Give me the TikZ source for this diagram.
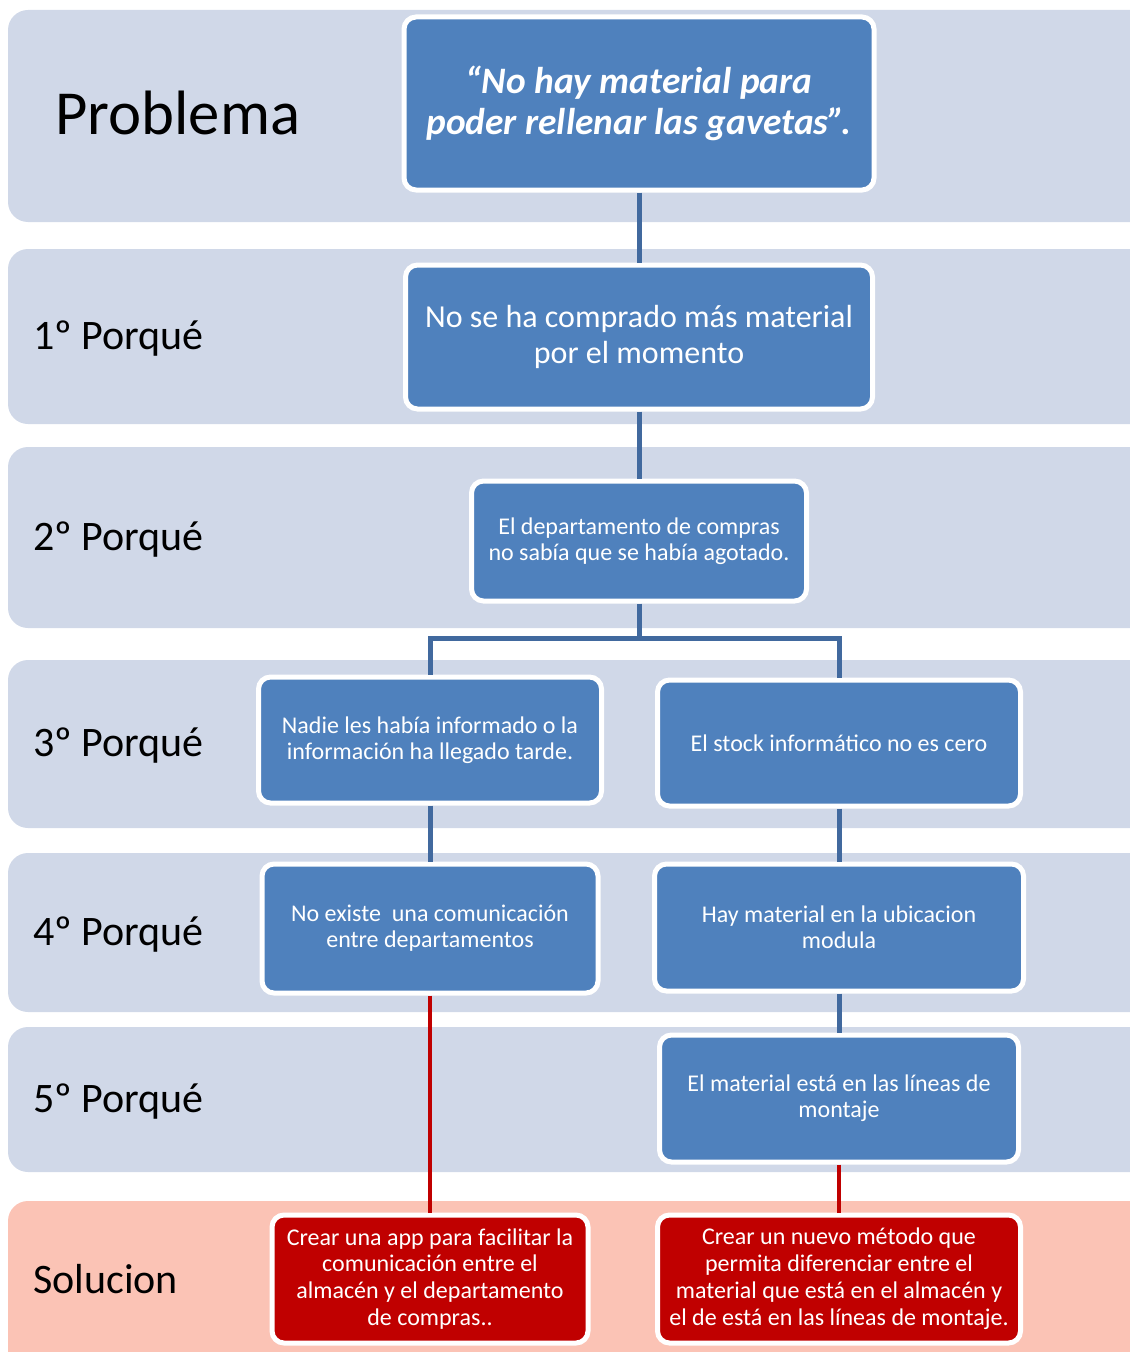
\documentclass[tikz,border=0pt]{standalone}
\usepackage{fontspec}
\setmainfont{Carlito}
\definecolor{bandc}{HTML}{D0D8E8}
\definecolor{pinkc}{HTML}{FBC3B5}
\definecolor{boxblue}{HTML}{4F81BD}
\definecolor{boxred}{HTML}{C00000}
\definecolor{linkblue}{HTML}{41699E}
\definecolor{linkred}{HTML}{C00000}
\begin{document}
\begin{tikzpicture}[x=0.75pt,y=-0.75pt,
  band/.style={fill=bandc, draw=none, rounded corners=15pt},
  sz/.style 2 args={minimum width=#1*0.75pt, minimum height=#2*0.75pt},
  box/.style={rectangle, rounded corners=9pt, fill=boxblue, draw=white, line width=3.75pt,
              text=white, align=center, inner sep=2pt,
              font=\fontsize{18}{19.5}\selectfont},
  redbox/.style={box, fill=boxred, font=\fontsize{18}{20.2}\selectfont},
  link/.style={draw=linkblue, line width=3.75pt},
  redlink/.style={draw=linkred, line width=3pt},
  lab/.style={anchor=base west, inner sep=0pt, font=\fontsize{31.5}{36}\selectfont}]
\useasboundingbox (0,0) rectangle (1130,1352);
\begin{scope}
\clip (0,0) rectangle (1130,1352);
\fill[band] (8,10) rectangle (1170,222);
\fill[band] (8,249) rectangle (1170,424);
\fill[band] (8,447) rectangle (1170,628);
\fill[band] (8,660) rectangle (1170,828);
\fill[band] (8,853) rectangle (1170,1012);
\fill[band] (8,1027) rectangle (1170,1172);
\fill[band, fill=pinkc] (8,1201) rectangle (1170,1390);
\end{scope}

% left labels
\node[lab, font=\fontsize{47}{54}\selectfont] (lp) at (55,135) {Problema};
\node[lab] (l1) at (33,349) {1º Porqué};
\node[lab] (l2) at (33,550) {2º Porqué};
\node[lab] (l3) at (33,756) {3º Porqué};
\node[lab] (l4) at (33,945) {4º Porqué};
\node[lab] (l5) at (33,1112) {5º Porqué};
\node[lab] (ls) at (33,1293) {Solucion};

% boxes
\node[box, sz={470}{173}, font=\fontsize{28}{31}\selectfont\bfseries\itshape] (top) at (639,103.5)
  {“No hay material para\\poder rellenar las gavetas”.};
\node[box, sz={467}{144}, font=\fontsize{24}{26.5}\selectfont] (b1) at (639,337)
  {No se ha comprado más material\\por el momento};
\node[box, sz={335}{120}] (b2) at (639,541)
  {El departamento de compras\\no sabía que se había agotado.};
\node[box, sz={343}{126}] (b3l) at (430,740)
  {Nadie les había informado o la\\información ha llegado tarde.};
\node[box, sz={363}{126}] (b3r) at (839,743)
  {El stock informático no es cero};
\node[box, sz={336}{129}] (b4l) at (430,928.5)
  {No existe\ \ una comunicación\\entre departamentos};
\node[box, sz={369}{127}] (b4r) at (839,927.5)
  {Hay material en la ubicacion\\modula};
\node[box, sz={359}{127}] (b5r) at (839,1098.5)
  {El material está en las líneas de\\montaje};
\node[redbox, sz={316}{128}] (sl) at (430,1279)
  {Crear una app para facilitar la\\comunicación entre el\\almacén y el departamento\\de compras..};
\node[redbox, sz={363}{128}] (sr) at (839,1279)
  {Crear un nuevo método que\\permita diferenciar entre el\\material que está en el almacén y\\el de está en las líneas de montaje.};

% connectors
\coordinate (split) at (639,638);
\draw[link] (top.south) -- (b1.north);
\draw[link] (b1.south) -- (b2.north);
\draw[link] (b2.south) -- (split) -| (b3l.north);
\draw[link] (split) -| (b3r.north);
\draw[link] (b3l.south) -- (b4l.north);
\draw[link] (b3r.south) -- (b4r.north);
\draw[link] (b4r.south) -- (b5r.north);
\draw[redlink] (b4l.south) -- (sl.north);
\draw[redlink] (b5r.south) -- (sr.north);
\end{tikzpicture}
\end{document}
